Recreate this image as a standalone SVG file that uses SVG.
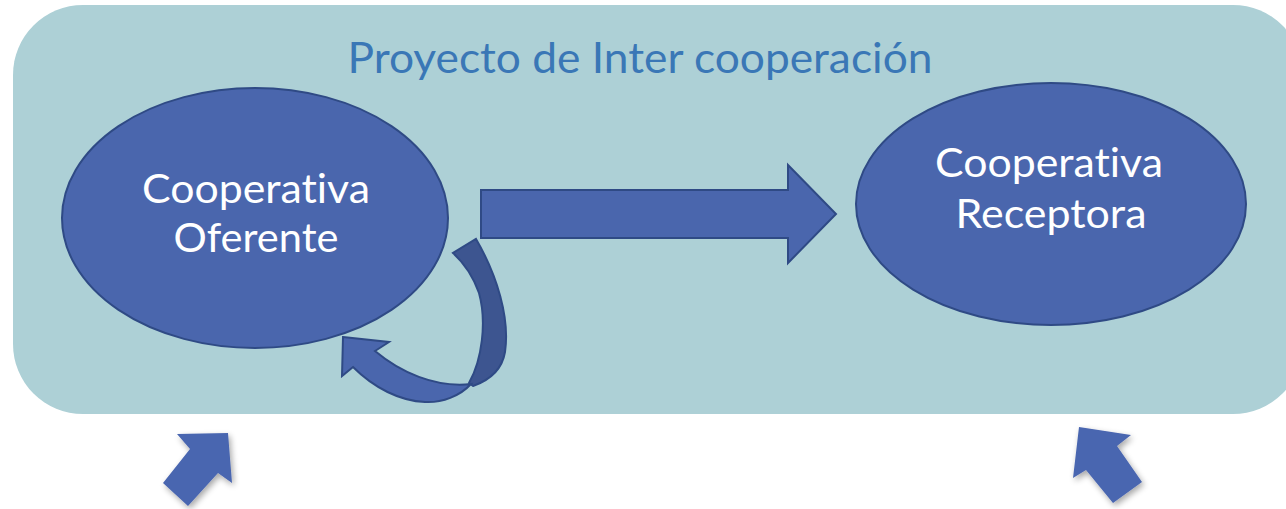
<svg xmlns="http://www.w3.org/2000/svg" width="1286" height="509" viewBox="0 0 1286 509">
  <style>
    text { font-variant-ligatures: none; font-feature-settings: "liga" 0, "dlig" 0; }
    .node { fill: #4A66AD; stroke: #2F4A85; stroke-width: 2; }
    .lbl { font-family: Lato, "Open Sans", "Liberation Sans", sans-serif; font-size: 40px; fill: #FFFFFF; text-anchor: middle; }
    .arrow { fill: #4A66AD; stroke: #2F4A85; stroke-width: 2; stroke-linejoin: miter; }
    .dark { fill: #3D5590; stroke: #2F4A85; stroke-width: 2; }
    .float { fill: #4A66B0; filter: url(#shadow); }
  </style>
  <defs>
    <filter id="shadow" x="-30%" y="-30%" width="160%" height="160%">
      <feGaussianBlur in="SourceAlpha" stdDeviation="3"/>
      <feOffset dx="2" dy="3" result="b"/>
      <feComponentTransfer><feFuncA type="linear" slope="0.35"/></feComponentTransfer>
      <feMerge><feMergeNode/><feMergeNode in="SourceGraphic"/></feMerge>
    </filter>
  </defs>

  <g id="project">
    <rect x="13" y="5" width="1290" height="409" rx="70" ry="70" fill="#ADD0D6"/>
    <text x="640" y="73" font-family="Lato, Open Sans, Liberation Sans, sans-serif" font-size="42" fill="#3A77B6" text-anchor="middle" textLength="585" lengthAdjust="spacingAndGlyphs">Proyecto de Inter cooperación</text>
  </g>

  <g id="oferente">
    <ellipse class="node" cx="255" cy="218" rx="193" ry="130"/>
    <text class="lbl" x="256" y="203" textLength="228" lengthAdjust="spacingAndGlyphs">Cooperativa</text>
    <text class="lbl" x="256" y="252" textLength="165" lengthAdjust="spacingAndGlyphs">Oferente</text>
  </g>

  <g id="receptora">
    <ellipse class="node" cx="1051" cy="204" rx="195" ry="121"/>
    <text class="lbl" x="1049" y="177" textLength="228" lengthAdjust="spacingAndGlyphs">Cooperativa</text>
    <text class="lbl" x="1051" y="228" textLength="191" lengthAdjust="spacingAndGlyphs">Receptora</text>
  </g>

  <g id="connectors">
    <polygon class="arrow" points="481,190 788,190 788,165 836,214 788,263 788,238 481,238"/>
    <path class="dark" d="M476,239 C497,275 510,318 505,352 C502,370 490,380 473,386 L469,383 C482,360 487,322 479,293 C473,276 464,263 453,253 Z"/>
    <path class="arrow" d="M343,337 L389,342 L375,351 C400,372 435,388 471,384 C460,396 442,403 425,402 C400,401 374,388 353,367 L342,376 Z"/>
    <polygon class="float" points="228,433 232,483 218,473 188,506 163,483 190,449 177,434"/>
    <polygon class="float" points="1079,427 1131,435 1117,446 1142,482 1113,503 1086,470 1073,478"/>
  </g>
</svg>
